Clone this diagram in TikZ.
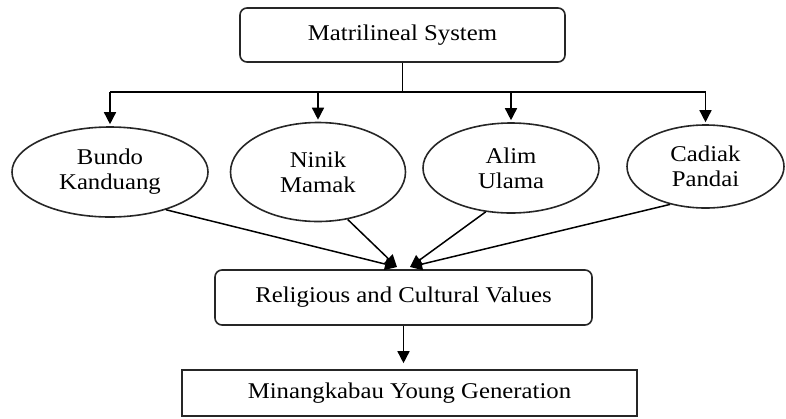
\documentclass[tikz,border=0pt]{standalone}
\usepackage{fontspec}
\setmainfont{Liberation Serif}[FakeStretch=1.1]
\usetikzlibrary{shapes.geometric,arrows.meta}
\begin{document}
\begin{tikzpicture}[x=1pt,y=-1pt,
  every node/.style={font=\fontsize{22.5}{25}\selectfont, align=center, inner sep=0pt},
  rbox/.style={draw=black!85, line width=1.6pt, rounded corners=7pt},
  sbox/.style={draw=black!85, line width=1.6pt},
  ell/.style={draw=black!85, line width=1.6pt, ellipse},
  arr/.style={line width=1.5pt, -{Triangle[length=12pt,width=12pt]}},
  ln/.style={line width=1.5pt}]
\useasboundingbox (0,0) rectangle (786,418);
\node[rbox, minimum width=325pt, minimum height=54pt] (ms) at (402.5,35) {Matrilineal System};
\node[ell, minimum width=196pt, minimum height=90pt] (bk) at (110,172) {Bundo\\Kanduang};
\node[ell, minimum width=175pt, minimum height=99pt] (nm) at (318,172) {Ninik\\Mamak};
\node[ell, minimum width=176pt, minimum height=90pt] (au) at (511,168) {Alim\\Ulama};
\node[ell, minimum width=157pt, minimum height=83pt] (cp) at (705.5,166.5) {Cadiak\\Pandai};
\node[rbox, minimum width=377pt, minimum height=55pt] (rcv) at (403.5,297.5) {Religious and Cultural Values};
\node[sbox, minimum width=455pt, minimum height=46pt] (myg) at (409.5,393) {Minangkabau Young Generation};
\coordinate (bar) at (0,92);
\coordinate (t1) at (397,267);
\coordinate (t2) at (410,267);
\draw[ln] (ms.south) -- (ms.south |- bar);
\draw[ln] (bk |- bar) -- (cp |- bar);
\foreach \n in {bk,nm,au,cp}{
  \draw[arr, shorten >=2pt] (\n |- bar) -- (\n.north);
}
\draw[arr] (bk.-34) -- (t1);
\draw[arr] (nm.-58) -- (t1);
\draw[arr] (au.-120) -- (t2);
\draw[arr] (cp.-133) -- (t2);
\draw[arr, shorten >=6pt] (rcv.south) -- (rcv.south |- myg.north);
\end{tikzpicture}
\end{document}
